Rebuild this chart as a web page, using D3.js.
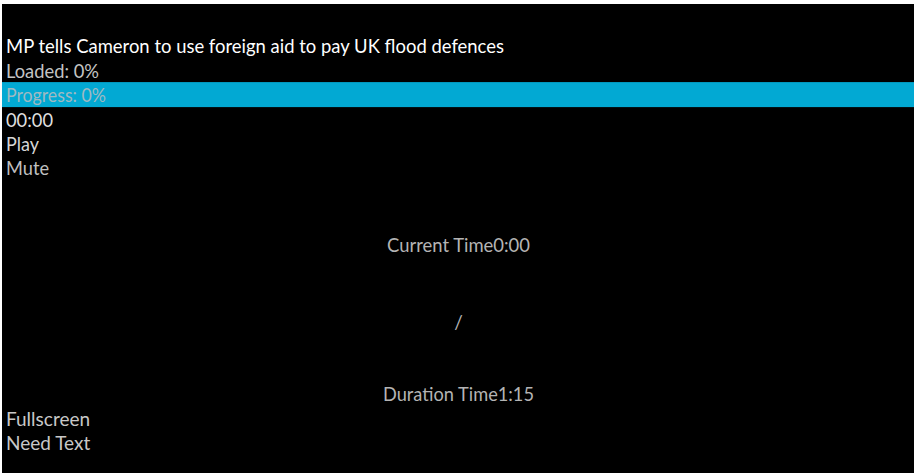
<html lang='en'>
  <head>
    <meta charset='UTF-8' />
    <script src='https://d3js.org/d3.v7.min.js'></script>
    <style>
      body { margin: 0; background: #fff; }
      .line { font-family: Lato, 'Open Sans', sans-serif; font-size: 19px; }
    </style>
    <title>Player</title>
  </head>
  <body>
  <div id='player'></div>
  <script>
  // text rows of the (unstyled) player, top block
  const topLabels = ["MP tells Cameron to use foreign aid to pay UK flood defences", "Loaded: 0%", "Progress: 0%", "00:00", "Play", "Mute"];
  const topColors = ["#ffffff", "#c4c4c4", "#9fb9c2", "#dedede", "#d6d6d6", "#c0c0c0"];
  const topWidths = [498, 93, 100, 47, 33, 43];
  // centred rows
  const midLabels = ["Current Time0:00", "/", "Duration Time1:15"];
  const midBaselines = [251.5, 329, 401];
  const midWidths = [143, 0, 151];
  // bottom rows
  const bottomLabels = ["Fullscreen", "Need Text"];
  const bottomColors = ["#c8c8c8", "#c8c8c8"];
  const progressRow = 2;

  const width = 914, height = 473;
  const lineH = 24.4;

  const svg = d3.select("#player").append("svg")
    .attr("width", width).attr("height", height);

  svg.append("rect")
    .attr("x", 2).attr("y", 4)
    .attr("width", width - 2).attr("height", height - 4)
    .attr("fill", "#000");

  // row index -> baseline
  const yTop = d3.scaleLinear().domain([0, 1]).range([53.3, 53.3 + lineH]);
  const yBottom = d3.scaleLinear().domain([0, 1]).range([425.5, 425.5 + lineH]);

  // progress bar band
  svg.append("rect")
    .attr("x", 2)
    .attr("y", yTop(progressRow) - 20)
    .attr("width", width - 2)
    .attr("height", 25)
    .attr("fill", "#02a9d3");

  svg.selectAll("text.top")
    .data(topLabels)
    .join("text")
    .attr("class", "line top")
    .attr("x", 6)
    .attr("y", (d, i) => yTop(i))
    .attr("fill", (d, i) => topColors[i])
    .attr("textLength", (d, i) => topWidths[i])
    .attr("lengthAdjust", "spacingAndGlyphs")
    .text((d) => d);

  svg.selectAll("text.mid")
    .data(midLabels)
    .join("text")
    .attr("class", "line mid")
    .attr("x", 458.5)
    .attr("y", (d, i) => midBaselines[i])
    .attr("text-anchor", "middle")
    .attr("fill", "#b4b4b4")
    .each(function (d, i) {
      if (midWidths[i]) d3.select(this).attr("textLength", midWidths[i]).attr("lengthAdjust", "spacingAndGlyphs");
    })
    .text((d) => d);

  svg.selectAll("text.bottom")
    .data(bottomLabels)
    .join("text")
    .attr("class", "line bottom")
    .attr("x", 6)
    .attr("y", (d, i) => yBottom(i))
    .attr("fill", (d, i) => bottomColors[i])
    .text((d) => d);
  </script>
  </body>
</html>
